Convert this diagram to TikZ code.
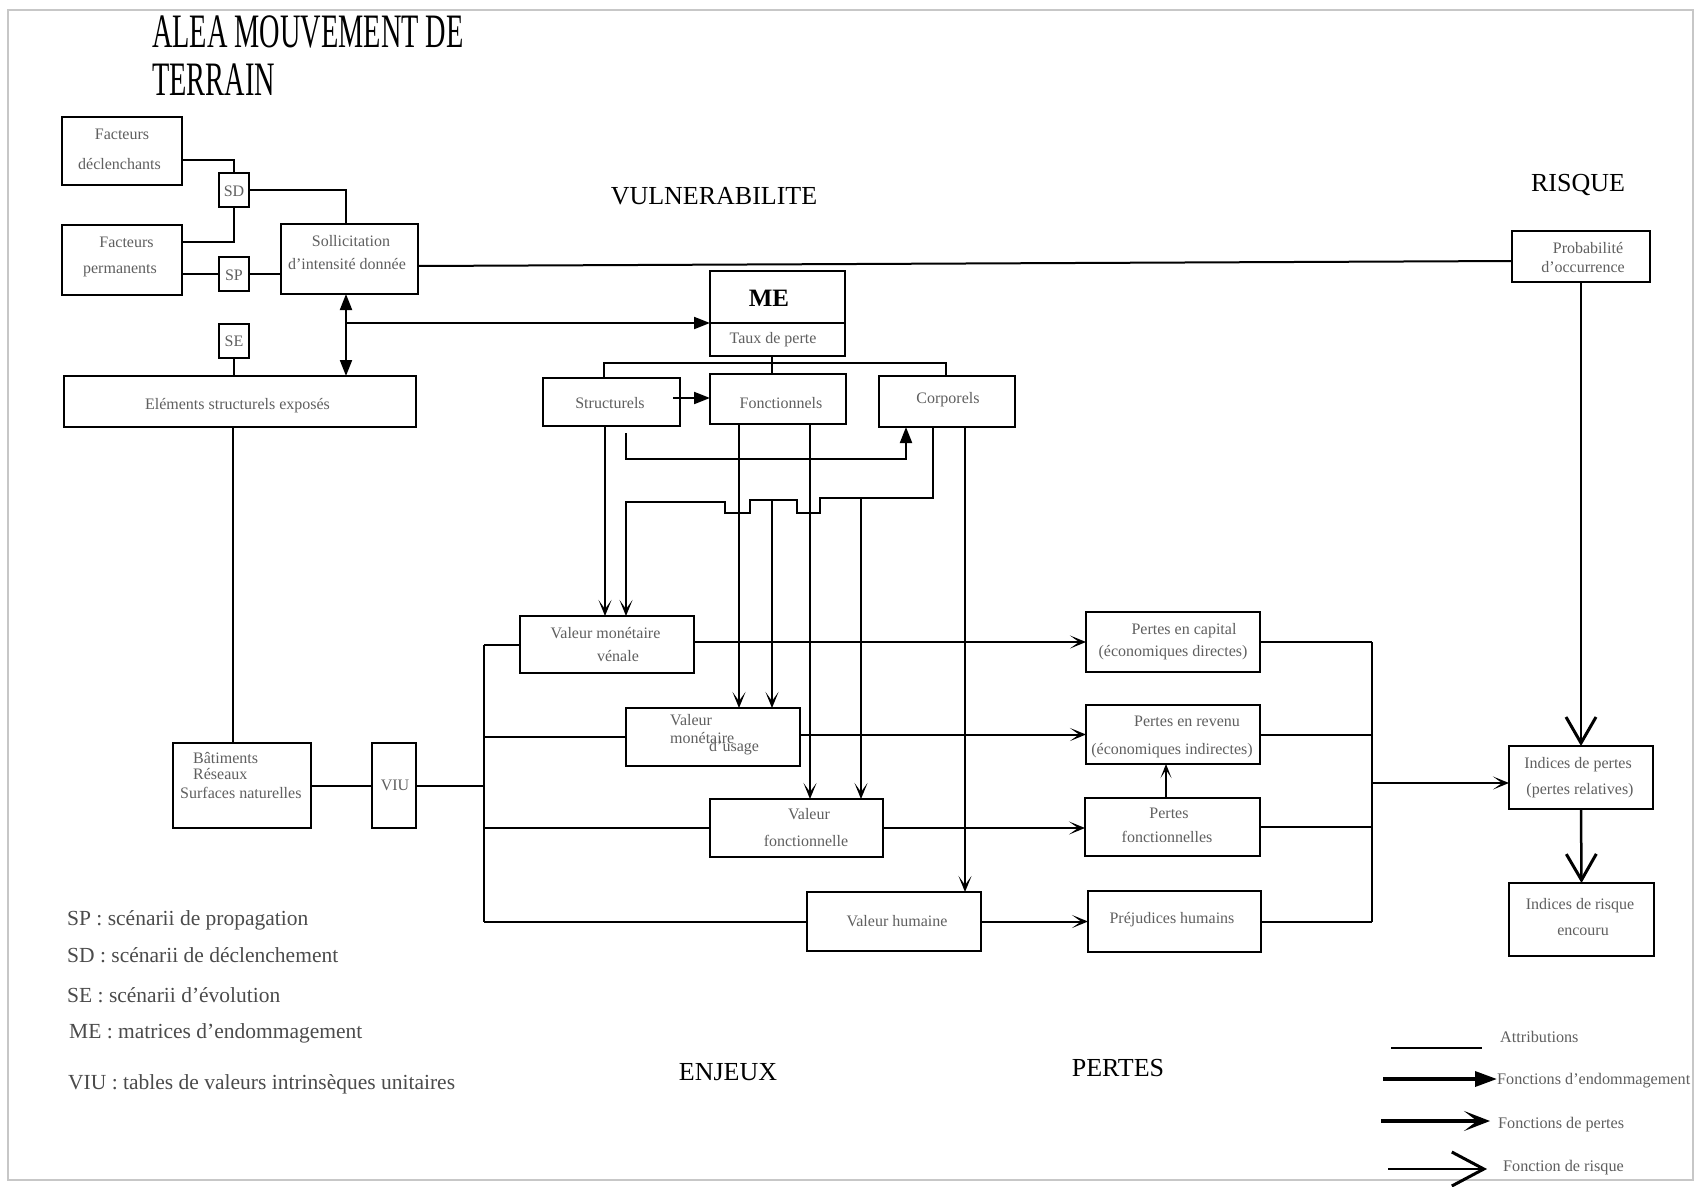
\documentclass[tikz,border=0pt]{standalone}
\usepackage{fontspec}
\setmainfont{Liberation Serif}
\newfontfamily\condfont[FakeStretch=0.59]{Liberation Serif}
\usetikzlibrary{arrows.meta,calc}
\definecolor{txtg}{RGB}{95,95,95}
\definecolor{legg}{RGB}{75,75,75}
\tikzset{
 bx/.style={draw, line width=2.2pt, inner sep=0pt, outer sep=0pt, rectangle},
 lbl/.style={anchor=mid, inner sep=0pt, yshift=-3.5pt, text=txtg, font=\fontsize{16}{16}\selectfont},
 lblw/.style={lbl, anchor=mid west},
 hdr/.style={anchor=mid, inner sep=0pt, yshift=-6.5pt, font=\fontsize{26}{26}\selectfont},
 legl/.style={anchor=mid west, inner sep=0pt, yshift=-4pt, text=legg, font=\fontsize{21.5}{21.5}\selectfont},
 legr/.style={anchor=mid west, inner sep=0pt, yshift=-3pt, text=txtg, font=\fontsize{16.2}{16.2}\selectfont},
 ln/.style={line width=2pt},
 dmg/.style={ln, -{Triangle[length=16pt,width=12pt]}},
 dmgtwo/.style={ln, {Triangle[length=16pt,width=12pt]}-{Triangle[length=16pt,width=12pt]}},
 lss/.style={ln, -{Stealth[length=16pt,width=13pt,inset=9pt]}},
 rsk/.style={line width=2.5pt, -{Straight Barb[length=26pt,width=30pt,line width=3pt]}},
}
\newcommand\mkbox[5]{\node[bx, minimum width={(#4-#2)*1pt}, minimum height={(#5-#3)*1pt}] (#1) at ({(#2+#4)/2},{(#3+#5)/2}) {};}
\newcommand\tx[4]{\node[lbl] (#1) at (#2,#3) {#4};}
\newcommand\txw[4]{\node[lblw] (#1) at (#2,#3) {#4};}
\begin{document}
\begin{tikzpicture}[x=1pt,y=-1pt]
\useasboundingbox (0,0) rectangle (1697,1186);
\fill[white] (0,0) rectangle (1697,1186);
\draw[black!22, line width=1.2pt] (8,10) rectangle (1693,1180);

% titles
\node[anchor=base west, inner sep=0pt, font=\condfont\fontsize{48}{48}\selectfont] (title1) at (152,47) {ALEA MOUVEMENT DE};
\node[anchor=base west, inner sep=0pt, font=\condfont\fontsize{48}{48}\selectfont] (title2) at (152,95) {TERRAIN};
\node[hdr] (hvul) at (714,196) {VULNERABILITE};
\node[hdr] (hris) at (1578,183) {RISQUE};
\node[hdr] (henj) at (728,1072) {ENJEUX};
\node[hdr] (hper) at (1118,1068) {PERTES};

% boxes
\mkbox{fd}{62}{117}{182}{185}
\mkbox{fp}{62}{225}{182}{295}
\mkbox{sd}{219}{173}{249}{207}
\mkbox{sp}{219}{257}{249}{291}
\mkbox{se}{219}{324}{249}{358}
\mkbox{sol}{281}{224}{418}{294}
\mkbox{elem}{64}{376}{416}{427}
\mkbox{bat}{173}{743}{311}{828}
\mkbox{viu}{372}{743}{416}{828}
\mkbox{prob}{1512}{231}{1650}{282}
\mkbox{metop}{710}{271}{845}{323}
\mkbox{mebot}{710}{323}{845}{356}
\mkbox{str}{543}{378}{680}{426}
\mkbox{fon}{710}{374}{846}{424}
\mkbox{cor}{879}{376}{1015}{427}
\mkbox{ven}{520}{616}{694}{673}
\mkbox{usa}{626}{708}{800}{766}
\mkbox{vfo}{710}{799}{883}{857}
\mkbox{hum}{807}{892}{981}{951}
\mkbox{pca}{1086}{612}{1260}{672}
\mkbox{pre}{1086}{705}{1260}{764}
\mkbox{pfo}{1085}{798}{1260}{856}
\mkbox{pju}{1088}{891}{1261}{952}
\mkbox{ipe}{1509}{746}{1653}{809}
\mkbox{iri}{1509}{883}{1654}{956}

% texts in boxes
\tx{t1}{122}{134}{Facteurs}
\tx{t2}{119.5}{164}{déclenchants}
\tx{t3}{126.5}{242}{Facteurs}
\tx{t4}{120}{268}{permanents}
\tx{t5}{234}{191}{SD}
\tx{t6}{234}{275}{SP}
\tx{t7}{234}{341}{SE}
\tx{t8}{351}{241}{Sollicitation}
\tx{t9}{347}{264}{d'intensité donnée}
\tx{t10}{237.5}{404}{Eléments structurels exposés}
\txw{t11}{193}{758}{Bâtiments}
\txw{t12}{193}{774}{Réseaux}
\txw{t13}{180}{793}{Surfaces naturelles}
\tx{t14}{395}{785}{VIU}
\tx{t15}{1588}{248}{Probabilité}
\tx{t16}{1583}{267}{d'occurrence}
\node[anchor=mid, inner sep=0pt, yshift=-5pt, font=\bfseries\fontsize{25}{25}\selectfont] (t17) at (769,299) {ME};
\tx{t18}{773}{338}{Taux de perte}
\tx{t19}{610}{403}{Structurels}
\tx{t20}{781}{403}{Fonctionnels}
\tx{t21}{948}{398}{Corporels}
\tx{t22}{605.5}{633}{Valeur monétaire}
\tx{t23}{618}{656}{vénale}
\txw{t24}{670}{720}{Valeur}
\txw{t25}{670}{738}{monétaire}
\txw{t26}{709}{746}{d'usage}
\tx{t27}{809}{814}{Valeur}
\tx{t28}{806}{841}{fonctionnelle}
\tx{t29}{897}{921}{Valeur humaine}
\tx{t30}{1184}{629}{Pertes en capital}
\tx{t31}{1173}{651}{(économiques directes)}
\tx{t32}{1187}{721}{Pertes en revenu}
\tx{t33}{1172}{749}{(économiques indirectes)}
\tx{t34}{1169}{813}{Pertes}
\tx{t35}{1167}{837}{fonctionnelles}
\tx{t36}{1172}{918}{Préjudices humains}
\tx{t37}{1578}{763}{Indices de pertes}
\tx{t38}{1580}{789}{(pertes relatives)}
\tx{t39}{1580}{904}{Indices de risque}
\tx{t40}{1583}{930}{encouru}

% lane coordinates
\coordinate (xsol) at (346,0);
\coordinate (xel) at (233,0);
\coordinate (bus) at (484,0);
\coordinate (x605) at (605,0);
\coordinate (x626) at (626,0);
\coordinate (x739) at (739,0);
\coordinate (x772) at (772,0);
\coordinate (x810) at (810,0);
\coordinate (x861) at (861,0);
\coordinate (x906) at (906,0);
\coordinate (x932) at (932.5,0);
\coordinate (x965) at (965,0);
\coordinate (x1166) at (1166,0);
\coordinate (rb) at (1372,783);
\coordinate (tl) at (604,363);
\coordinate (tr) at (945.5,363);
\coordinate (tm) at (772,363);

% ALEA part
\draw[ln] (fd.east |- 0,160) -| (sd.north);
\draw[ln] (sd.south) |- (fp.east |- 0,242);
\draw[ln] (sd.east) -| (xsol |- sol.north);
\draw[ln] (fp.east |- sp.west) -- (sp.west);
\draw[ln] (sp.east) -- (sol.west |- sp.east);
\draw[ln] (sol.east |- 0,266) -- (prob.west |- 0,261);
\draw[dmgtwo] (xsol |- sol.south) -- (xsol |- elem.north);
\draw[dmg] (xsol |- metop.south west) -- (metop.south west);
\draw[ln] (se.south) -- (se.south |- elem.north);
\draw[ln] (elem.south -| xel) -- (bat.north -| xel);
\draw[ln] (bat.east) -- (viu.west);
\draw[ln] (viu.east) -- (bus |- viu.east);

% enjeux bus
\draw[ln] (bus |- ven.west) -- (bus |- hum.west);
\draw[ln] (bus |- ven.west) -- (ven.west);
\draw[ln] (bus |- usa.west) -- (usa.west);
\draw[ln] (bus |- vfo.west) -- (vfo.west);
\draw[ln] (bus |- hum.west) -- (hum.west);

% ME tree
\draw[ln] (tm |- mebot.south) -- (tm |- fon.north);
\draw[ln] (tl |- str.north) -- (tl) -- (tr) -- (tr |- cor.north);
\draw[dmg] ($(str.east)+(-7,-4)$) -- (fon.west |- 0,398);
\draw[dmg] (x626 |- 0,433) -- (x626 |- 0,459) -| (cor.south -| x906);

% damage functions down to enjeux
\draw[lss] (str.south -| x605) -- (ven.north -| x605);
\draw[lss] (fon.south -| x739) -- (usa.north -| x739);
\draw[lss] (fon.south -| x810) -- (vfo.north -| x810);
\draw[lss] (cor.south -| x932) -- (x932 |- 0,498) -- (820,498) -- (820,513) -- (797.4,513) -- (797.4,500) -- (749.7,500) -- (749.7,513) -- (724.5,513) -- (724.5,502) -- (x626 |- 0,502) -- (ven.north -| x626);
\draw[lss] (x772 |- 0,500) -- (usa.north -| x772);
\draw[lss] (x861 |- 0,498) -- (vfo.north -| x861);
\draw[lss] (cor.south -| x965) -- (hum.north -| x965);

% loss functions
\draw[lss] (ven.east |- pca.west) -- (pca.west);
\draw[lss] (usa.east |- pre.west) -- (pre.west);
\draw[lss] (vfo.east) -- (pfo.west |- vfo.east);
\draw[lss] (hum.east) -- (pju.west |- hum.east);
\draw[ln, -{Stealth[length=14pt,width=11pt,inset=8pt]}] (pfo.north -| x1166) -- (pre.south -| x1166);

% right bus
\draw[ln] (pca.east) -- (pca.east -| rb);
\draw[ln] (pre.east) -- (pre.east -| rb);
\draw[ln] (pfo.east) -- (pfo.east -| rb);
\draw[ln] (pju.east) -- (pju.east -| rb);
\draw[ln] (pca.east -| rb) -- (pju.east -| rb);
\draw[lss] (rb) -- (ipe.west |- rb);

% risk
\draw[rsk] (prob.south) -- (ipe.north);
\draw[rsk] (ipe.south) -- (iri.north);

% left legend
\node[legl] (l1) at (67,919) {SP : scénarii de propagation};
\node[legl] (l2) at (67,956) {SD : scénarii de déclenchement};
\node[legl] (l3) at (67,996) {SE : scénarii d'évolution};
\node[legl] (l4) at (69,1032) {ME : matrices d'endommagement};
\node[legl] (l5) at (68,1083) {VIU : tables de valeurs intrinsèques unitaires};

% right legend
\coordinate (la1) at (1391,1048); \coordinate (la2) at (1482,1048);
\coordinate (lb1) at (1383,1079); \coordinate (lb2) at (1497,1079);
\coordinate (lc1) at (1381,1121); \coordinate (lc2) at (1490,1121);
\coordinate (ld1) at (1388,1169); \coordinate (ld2) at (1487,1169);
\draw[line width=2.5pt] (la1) -- (la2);
\draw[line width=3.5pt, -{Triangle[length=22pt,width=15pt]}] (lb1) -- (lb2);
\draw[line width=3.5pt, -{Stealth[length=26pt,width=20pt,inset=13pt]}] (lc1) -- (lc2);
\draw[line width=2.5pt, -{Straight Barb[length=32pt,width=34pt,line width=3pt]}] (ld1) -- (ld2);
\node[legr] (r1) at (1500,1037) {Attributions};
\node[legr] (r2) at (1497,1079) {Fonctions d'endommagement};
\node[legr] (r3) at (1498,1123) {Fonctions de pertes};
\node[legr] (r4) at (1503,1166) {Fonction de risque};
\end{tikzpicture}
\end{document}
